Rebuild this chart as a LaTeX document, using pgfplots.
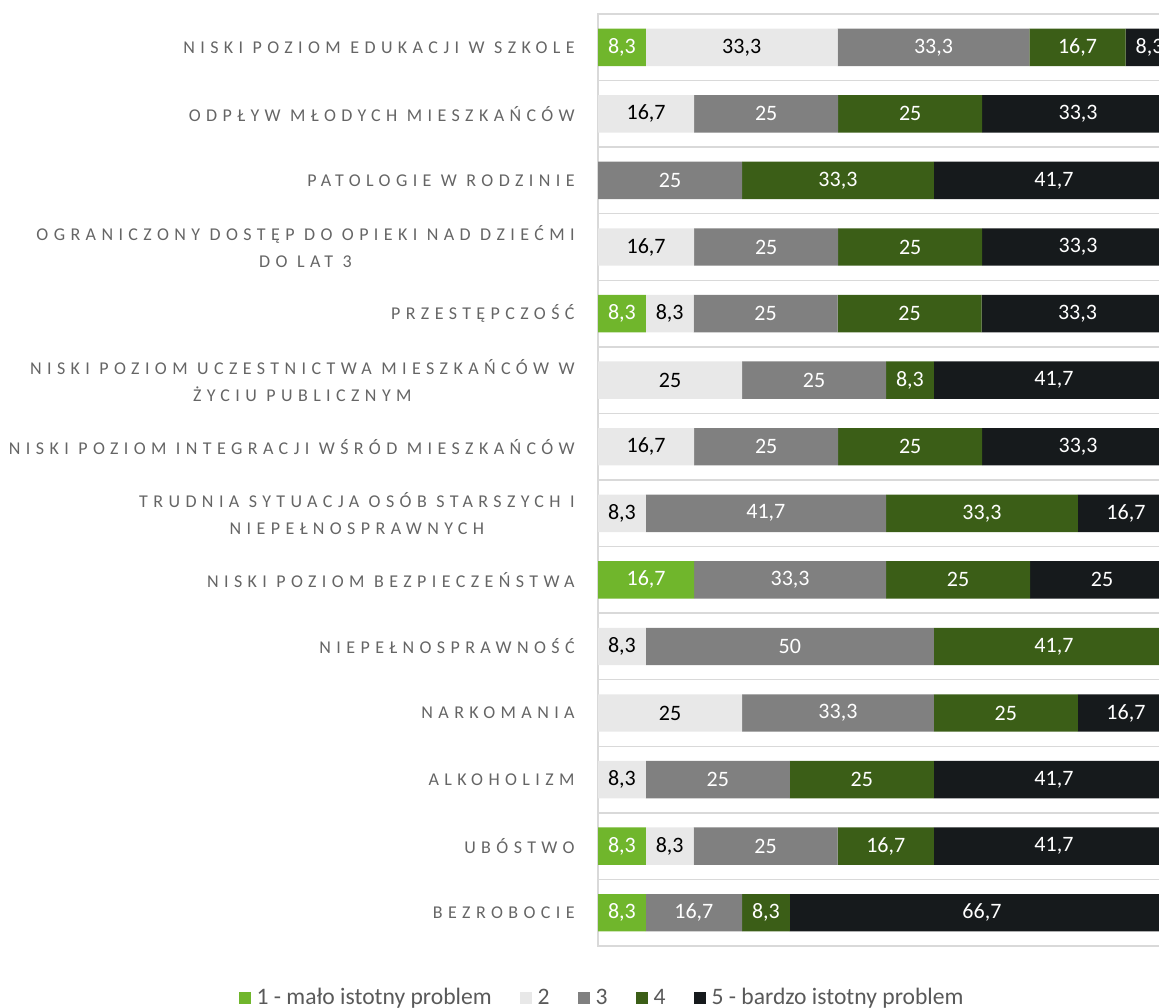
\documentclass[border=0pt]{standalone}
\usepackage{fontspec}
\setmainfont{Carlito}
\newfontfamily\catfont[LetterSpace=30]{Carlito}
\usepackage{pgfplots}
\usepackage{pgfplotstable}
\pgfplotsset{compat=1.18}
\definecolor{c1}{HTML}{70B62C}
\definecolor{c2}{HTML}{E8E8E8}
\definecolor{c3}{HTML}{808080}
\definecolor{c4}{HTML}{3B5E17}
\definecolor{c5}{HTML}{161A1C}
\definecolor{gridc}{HTML}{D9D9D9}
\definecolor{txt}{HTML}{595959}
\definecolor{cattxt}{HTML}{656565}
\pgfplotstableread{
y s1 s2 s3 s4 s5
0 8.3 33.3 33.3 16.7 8.3
1 0 16.7 25 25 33.3
2 0 0 25 33.3 41.7
3 0 16.7 25 25 33.3
4 8.3 8.3 25 25 33.3
5 0 25 25 8.3 41.7
6 0 16.7 25 25 33.3
7 0 8.3 41.7 33.3 16.7
8 16.7 0 33.3 25 25
9 0 8.3 50 41.7 0
10 0 25 33.3 25 16.7
11 0 8.3 25 25 41.7
12 8.3 8.3 25 16.7 41.7
13 8.3 0 16.7 8.3 66.7
}\data
\begin{document}
\begin{tikzpicture}
\begin{axis}[
  at={(299pt,-473pt)}, anchor=south west,
  scale only axis, width=288pt, height=466pt,
  xbar stacked, bar width=18.7pt,
  xmin=0, xmax=100, ymin=-0.5, ymax=13.5, y dir=reverse,
  axis line style={draw=gridc, line width=0.75pt},
  xtick=\empty,
  ytick={0,...,13},
  minor ytick={0.5,1.5,...,12.5},
  yminorgrids, minor grid style={draw=gridc, line width=0.75pt},
  major tick length=0pt, minor tick length=0pt,
  yticklabels={
    {NISKI POZIOM EDUKACJI W SZKOLE},
    {ODPŁYW MŁODYCH MIESZKAŃCÓW},
    {PATOLOGIE W RODZINIE},
    {OGRANICZONY DOSTĘP DO OPIEKI NAD DZIEĆMI\\DO LAT 3},
    {PRZESTĘPCZOŚĆ},
    {NISKI POZIOM UCZESTNICTWA MIESZKAŃCÓW W\\ŻYCIU PUBLICZNYM},
    {NISKI POZIOM INTEGRACJI WŚRÓD MIESZKAŃCÓW},
    {TRUDNIA SYTUACJA OSÓB STARSZYCH I\\NIEPEŁNOSPRAWNYCH},
    {NISKI POZIOM BEZPIECZEŃSTWA},
    {NIEPEŁNOSPRAWNOŚĆ},
    {NARKOMANIA},
    {ALKOHOLIZM},
    {UBÓSTWO},
    {BEZROBOCIE}},
  yticklabel style={align=center, font=\catfont\fontsize{9}{13.5}\selectfont, text=cattxt, inner sep=0pt, xshift=-11.5pt},
  point meta=explicit,
  nodes near coords={\pgfmathfloatifflags{\pgfplotspointmeta}{0}{}{\pgfmathprintnumber{\pgfplotspointmeta}}},
  every node near coord/.append style={anchor=center, font=\fontsize{11}{13}\selectfont, inner sep=0pt},
  /pgf/number format/.cd, use comma, fixed, precision=1, assume math mode=true, /pgfplots/.cd,
  legend columns=5,
  legend style={draw=none, fill=none, at={(rel axis cs:0.007,0)}, anchor=center, yshift=-26pt,
    font=\fontsize{11.8}{13}\selectfont, text=txt,
    /tikz/every even column/.append style={column sep=13pt},
    /tikz/every odd column/.append style={column sep=2pt},
    nodes={inner sep=1pt}},
  legend image code/.code={\fill[#1] (0pt,-3pt) rectangle (6pt,3pt);},
]
\addplot+[fill=c1, draw=none, every node near coord/.append style={text=white}]
  table[x=s1, y=y, meta=s1] {\data};
\addplot+[fill=c2, draw=none, every node near coord/.append style={text=black}]
  table[x=s2, y=y, meta=s2] {\data};
\addplot+[fill=c3, draw=none, every node near coord/.append style={text=white}]
  table[x=s3, y=y, meta=s3] {\data};
\addplot+[fill=c4, draw=none, every node near coord/.append style={text=white}]
  table[x=s4, y=y, meta=s4] {\data};
\addplot+[fill=c5, draw=none, every node near coord/.append style={text=white}]
  table[x=s5, y=y, meta=s5] {\data};
\legend{1 - mało istotny problem, 2, 3, 4, 5 - bardzo istotny problem}
\end{axis}
\pgfresetboundingbox
\useasboundingbox (0,0) rectangle (579.5pt,-503.5pt);
\end{tikzpicture}
\end{document}
